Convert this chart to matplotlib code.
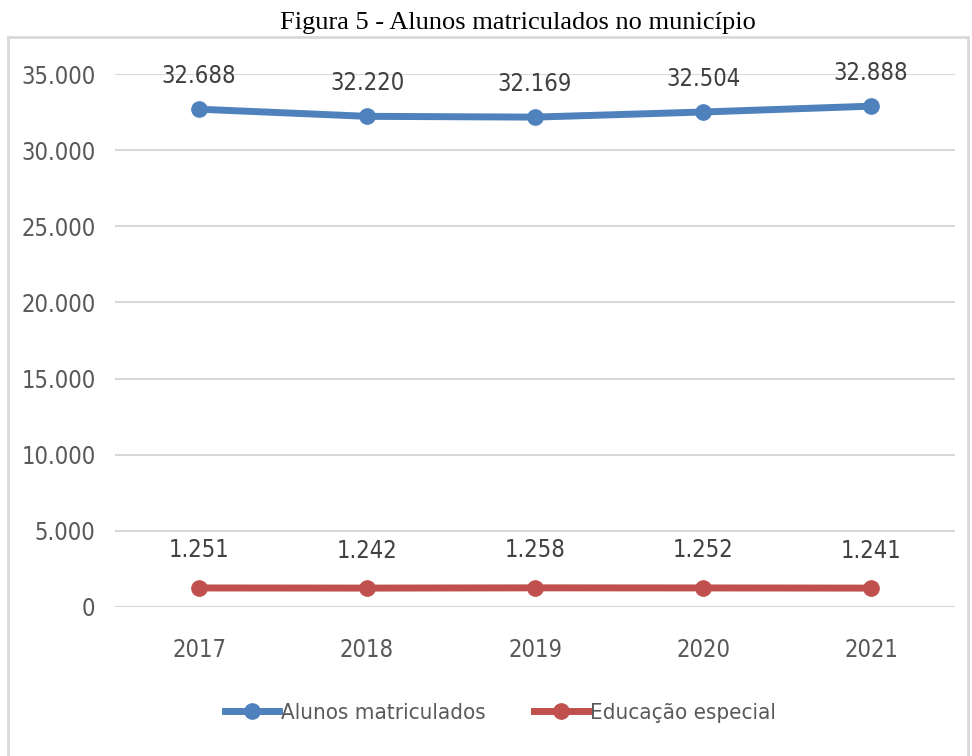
import matplotlib
matplotlib.use("Agg")
import matplotlib.pyplot as plt
from matplotlib.patches import Rectangle
from matplotlib.lines import Line2D
from matplotlib import font_manager as fm

years = ["2017", "2018", "2019", "2020", "2021"]
alunos = [32688, 32220, 32169, 32504, 32888]
especial = [1251, 1242, 1258, 1252, 1241]
series_names = ["Alunos matriculados", "Educação especial"]
yticks = [0, 5000, 10000, 15000, 20000, 25000, 30000, 35000]

def fmt(v):
    return f"{v:,}".replace(",", ".")

FONT = ["DejaVu Sans"]
GREY = "#595959"
BLUE = "#4F81BD"
RED = "#C0504D"
TXT = dict(family=FONT, stretch="condensed")

fig = plt.figure(figsize=(9.72, 7.56), dpi=100)
fig.patch.set_facecolor("white")

fig.add_artist(Rectangle((8/972, -0.01), (968-8)/972, 1 - 37/756 + 0.01,
                         transform=fig.transFigure, fill=False,
                         edgecolor="#d9d9d9", linewidth=2))

fig.text(518/972, 1 - 23/756, "Figura 5 - Alunos matriculados no município",
         ha="center", va="center", fontsize=19, family=["Liberation Serif"],
         weight="normal", color="black")

ax = fig.add_axes([115/972, 1 - 607/756, (955-115)/972, (607-74)/756])
x = list(range(len(years)))
ax.plot(x, alunos, color=BLUE, lw=5, marker="o", ms=11, solid_capstyle="round")
ax.plot(x, especial, color=RED, lw=5, marker="o", ms=11, solid_capstyle="round")

for xi, v in zip(x, alunos):
    ax.annotate(fmt(v), (xi, v), xytext=(0, 24), textcoords="offset points",
                ha="center", va="center", fontsize=17, color="#404040", **TXT)
for xi, v in zip(x, especial):
    ax.annotate(fmt(v), (xi, v), xytext=(0, 27), textcoords="offset points",
                ha="center", va="center", fontsize=17, color="#404040", **TXT)

ax.set_xlim(-0.5, len(years) - 0.5)
ax.set_ylim(0, 35000)
ax.set_yticks(yticks)
ax.set_yticklabels([fmt(t) for t in yticks], fontsize=17, color=GREY, **TXT)
ax.set_xticks(x)
ax.set_xticklabels(years, fontsize=17, color=GREY, **TXT)
ax.tick_params(length=0, pad=14)
ax.tick_params(axis="x", pad=22)
ax.grid(axis="y", color="#d9d9d9", lw=1.5)
ax.set_axisbelow(True)
for s in ax.spines.values():
    s.set_visible(False)

handles = [Line2D([0], [0], color=BLUE, lw=5, marker="o", ms=11),
           Line2D([0], [0], color=RED, lw=5, marker="o", ms=11)]
leg = fig.legend(handles, series_names, loc="center", bbox_to_anchor=(0.515, 1 - 713/756),
                 ncol=2, frameon=False, prop=fm.FontProperties(family=FONT, stretch="condensed", size=16),
                 handlelength=2.4, handletextpad=0.1, columnspacing=2.2)
for t in leg.get_texts():
    t.set_color(GREY)

fig.savefig("out.png", dpi=100)
